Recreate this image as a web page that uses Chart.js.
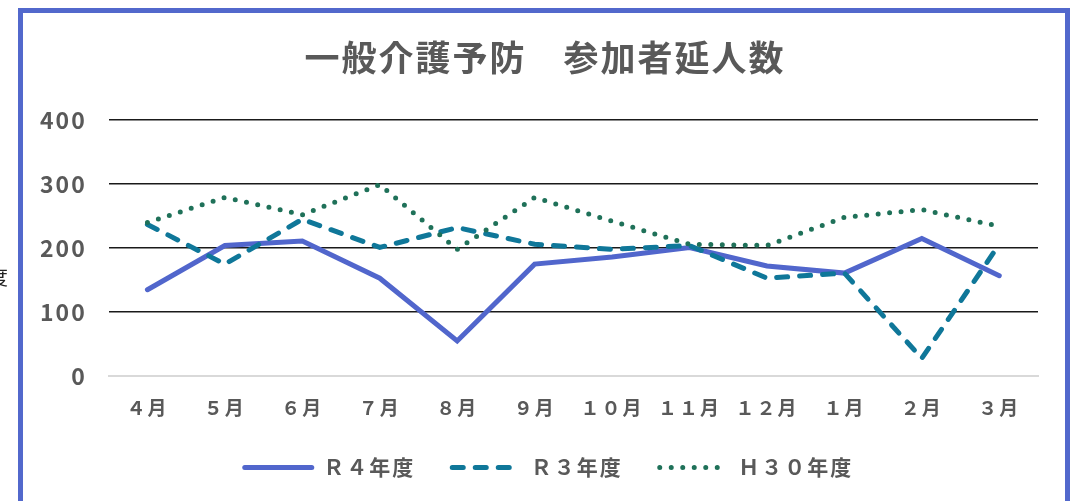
<!DOCTYPE html>
<html>
<head>
<meta charset="utf-8">
<script src="https://cdn.jsdelivr.net/npm/chart.js@4"></script>
<style>
    html, body { margin: 0; padding: 0; background: #fff; overflow: hidden; }
    #wrap { position: relative; width: 1076px; height: 501px; }
    #frame {
        position: absolute; left: 18px; top: 8px; width: 1042px; height: 520px;
        border: 5px solid #5268cc; pointer-events: none;
    }
    #cut {
        position: absolute; left: -12px; top: 262px; font: 20px "Noto Sans CJK JP"; color: #222;
    }
</style>
</head>
<body>
<div id="wrap">
    <canvas id="chart" width="1076" height="501"></canvas>
    <div id="frame"></div>
    <div id="cut">度</div>
</div>
<script>
// chart data
const months = ['４月', '５月', '６月', '７月', '８月', '９月', '１０月', '１１月', '１２月', '１月', '２月', '３月'];
const r4Data = [135, 204, 211, 153, 55, 175, 186, 201, 172, 161, 215, 157];
const r3Data = [237, 175, 245, 201, 232, 206, 198, 204, 153, 161, 28, 206];
const h30Data = [240, 279, 252, 299, 198, 279, 242, 206, 204, 248, 260, 234];
const yTicks = [0, 100, 200, 300, 400];

const textColor = '#595959';
const fontFamily = '"Noto Sans CJK JP", sans-serif';
const legendLineLengths = [71, 66, 64];

// wider letter spacing, like the original
const spacingPlugin = {
    id: 'spacing',
    beforeUpdate(chart) { chart.ctx.letterSpacing = '2px'; },
    beforeDraw(chart) { chart.ctx.letterSpacing = '2px'; }
};

// title and legend sit a bit right of the plot centre in the original
const shiftPlugin = {
    id: 'shift',
    afterLayout(chart) {
        if (chart.legend) { chart.legend.left += 20; chart.legend.right += 20; }
        if (chart.titleBlock) { chart.titleBlock.left += 17; chart.titleBlock.right += 17; }
    }
};

// legend boxes are blank, so draw the line samples with each dataset's dash
const legendLinePlugin = {
    id: 'legendLines',
    afterDraw(chart) {
        const legend = chart.legend;
        if (!legend || !legend.legendHitBoxes) return;
        const c = chart.ctx;
        legend.legendHitBoxes.forEach((box, i) => {
            const ds = chart.data.datasets[i];
            const y = box.top + box.height / 2;
            const x0 = box.left + 2;
            c.save();
            c.strokeStyle = ds.borderColor;
            c.lineWidth = ds.borderWidth;
            c.lineCap = 'round';
            c.setLineDash(ds.borderDash || []);
            c.beginPath();
            c.moveTo(x0, y);
            c.lineTo(x0 + legendLineLengths[i] - 4, y);
            c.stroke();
            c.restore();
        });
    }
};

const ctx = document.getElementById('chart').getContext('2d');
new Chart(ctx, {
    type: 'line',
    data: {
        labels: months,
        datasets: [{
            label: 'Ｒ４年度',
            data: r4Data,
            borderColor: '#5166cc',
            backgroundColor: '#5166cc',
            borderWidth: 5,
            borderCapStyle: 'round',
            pointRadius: 0,
            tension: 0,
            order: 3
        }, {
            label: 'Ｒ３年度',
            data: r3Data,
            borderColor: '#0f7799',
            backgroundColor: '#0f7799',
            borderWidth: 5,
            borderDash: [11, 12],
            borderCapStyle: 'round',
            pointRadius: 0,
            tension: 0,
            order: 2
        }, {
            label: 'Ｈ３０年度',
            data: h30Data,
            borderColor: '#1f7159',
            backgroundColor: '#1f7159',
            borderWidth: 5,
            borderDash: [0, 11.5],
            borderCapStyle: 'round',
            pointRadius: 0,
            tension: 0,
            order: 1
        }]
    },
    options: {
        responsive: false,
        animation: false,
        layout: { padding: { top: 37, left: 18, right: 38, bottom: 13 } },
        plugins: {
            title: {
                display: true,
                text: '一般介護予防　参加者延人数',
                color: textColor,
                font: { family: fontFamily, size: 35, weight: 'bold' },
                padding: { top: 0, bottom: 41 }
            },
            legend: {
                position: 'bottom',
                labels: {
                    color: textColor,
                    font: { family: fontFamily, size: 21, weight: 'bold' },
                    boxWidth: 70,
                    boxHeight: 20,
                    padding: 35,
                    generateLabels(chart) {
                        return chart.data.datasets.map((ds, i) => ({
                            text: ds.label,
                            fillStyle: 'rgba(0,0,0,0)',
                            strokeStyle: 'rgba(0,0,0,0)',
                            lineWidth: 0,
                            fontColor: textColor,
                            hidden: false,
                            datasetIndex: i
                        }));
                    }
                }
            },
            tooltip: { enabled: false }
        },
        scales: {
            x: {
                offset: true,
                grid: { display: false, drawTicks: false },
                border: { color: '#d9d9d9', width: 2 },
                ticks: {
                    color: textColor,
                    font: { family: fontFamily, size: 19, weight: 'bold' },
                    padding: 20,
                    maxRotation: 0,
                    autoSkip: false
                },
                afterFit(axis) { axis.height -= 17; }
            },
            y: {
                min: yTicks[0],
                max: yTicks[yTicks.length - 1],
                afterBuildTicks: axis => { axis.ticks = yTicks.map(v => ({ value: v })); },
                grid: {
                    drawTicks: false,
                    color: c => c.tick.value === 0 ? 'rgba(0,0,0,0)' : '#1a1a1a',
                    lineWidth: 1.5
                },
                border: { display: false },
                ticks: {
                    color: textColor,
                    font: { family: fontFamily, size: 23, weight: 'bold' },
                    padding: 22
                }
            }
        }
    },
    plugins: [spacingPlugin, shiftPlugin, legendLinePlugin]
});
</script>
</body>
</html>
